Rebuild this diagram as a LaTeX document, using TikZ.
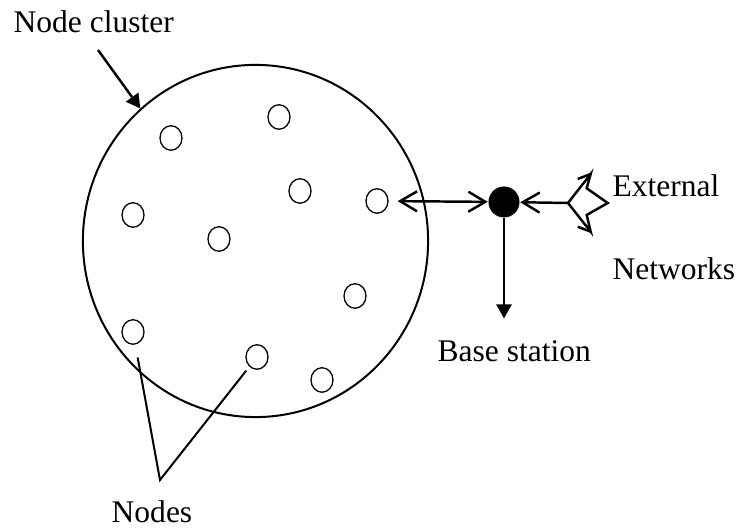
\documentclass[tikz,border=0pt]{standalone}
\usepackage{fontspec}
\setmainfont{Liberation Serif}
\usetikzlibrary{arrows.meta,shapes.geometric}

\begin{document}
\begin{tikzpicture}[x=0.01cm,y=-0.01cm,
        font=\fontsize{8.96pt}{11pt}\selectfont,
        sensor/.style={ellipse,draw,line width=0.37pt,minimum width=0.22cm,minimum height=0.245cm,inner sep=0},
        link/.style={line width=0.7pt,{Straight Barb[length=0.17cm,width=0.2cm]}-{Straight Barb[length=0.17cm,width=0.2cm]}},
        inlink/.style={line width=0.7pt,-{Straight Barb[length=0.17cm,width=0.2cm]}},
        pointer/.style={line width=0.7pt,-{Triangle[length=0.14cm,width=0.15cm]}},
        netsym/.style={line width=0.7pt,line join=miter},
        txt/.style={anchor=base west,inner sep=0}]
  \useasboundingbox (0,0) rectangle (744,528);

  % the cluster and its sensor nodes
  \node[ellipse,draw,line width=0.57pt,minimum width=3.45cm,minimum height=3.52cm] (cluster) at (255.5,241) {};
  \node[sensor] (n1) at (171,138) {};
  \node[sensor] (n2) at (279,117) {};
  \node[sensor] (n3) at (300,191) {};
  \node[sensor] (n4) at (377,201) {};
  \node[sensor] (n5) at (133,215) {};
  \node[sensor] (n6) at (219,239) {};
  \node[sensor] (n7) at (355,296) {};
  \node[sensor] (n8) at (133,332) {};
  \node[sensor] (n9) at (257,357) {};
  \node[sensor] (n10) at (322,380) {};

  % base station and external networks
  \node[circle,fill,inner sep=0,minimum size=0.31cm] (bs) at (504,202) {};
  \coordinate (ext) at (568,203);
  \draw[netsym] (ext) -- ++(22.7,-29) coordinate (tip1) -- ++(-4,14.3) -- ++(21,14.7)
    -- ++(-21,12) -- ++(4,16.7) coordinate (tip2) -- cycle;
  \draw[netsym] (tip1) -- ++(-13,5);
  \draw[netsym] (tip2) -- ++(-13,-5);

  % labels
  \node[txt] (lcluster) at (13,33) {Node cluster};
  \node[txt] (lext) at (612,197) {External};
  \node[txt] (lnet) at (612,280) {Networks};
  \node[txt] (lbs) at (437,362) {Base station};
  \node[anchor=base,inner sep=0] (lnodes) at (152,523) {Nodes};

  % connectors
  \coordinate (ctail) at (98,50);
  \coordinate (apex) at (160,480);
  \draw[pointer] (ctail) -- (cluster.131);
  \draw[link,shorten <=0.09cm] (n4) -- (bs);
  \draw[inlink] (ext) -- (bs);
  \draw[pointer,shorten >=0.22cm] (bs) -- (bs |- lbs.north);
  \draw[line width=0.57pt,shorten <=0.13cm,shorten >=0.05cm] (n8) -- (apex) -- (n9);
\end{tikzpicture}
\end{document}
